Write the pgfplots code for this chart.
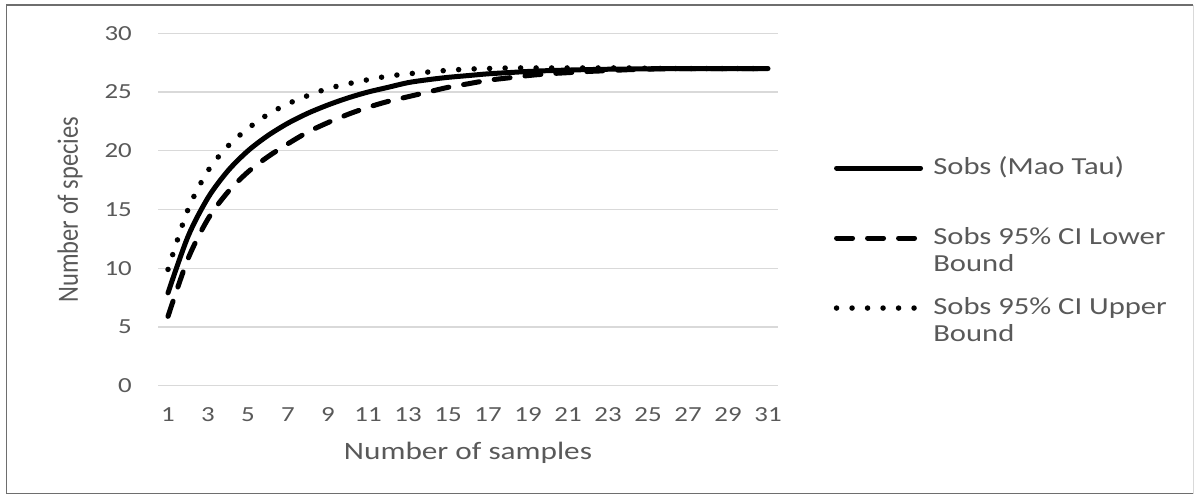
\documentclass[border=0pt]{standalone}
\usepackage{fontspec}
\usepackage{graphicx}
\usepackage{pgfplots}
\pgfplotsset{compat=1.18}
\setmainfont{Carlito}[FakeStretch=1.25]
\newfontfamily\ylabfamily{Carlito}
\definecolor{textgray}{HTML}{595959}
\definecolor{gridgray}{HTML}{D9D9D9}
\definecolor{framegray}{HTML}{6E6E6E}
\newcommand{\tickfont}{\fontsize{21.5bp}{25bp}\selectfont}
\newcommand{\labfont}{\fontsize{25bp}{30bp}\selectfont}
\newcommand{\legfont}{\fontsize{24.5bp}{27bp}\selectfont}
\newcommand{\ylabfont}{\ylabfamily\fontsize{24.5bp}{29bp}\selectfont}

\pgfplotstableread{
x y
1 7.9
2 12.7
3 16.0
4 18.3
5 20.0
6 21.3
7 22.35
8 23.2
9 23.9
10 24.5
11 25.0
12 25.4
13 25.8
14 26.05
15 26.25
16 26.4
17 26.55
18 26.65
19 26.75
20 26.82
21 26.87
22 26.91
23 26.94
24 26.96
25 26.98
26 26.99
27 27
28 27
29 27
30 27
31 27
}\sobsdata
\pgfplotstableread{
x y
1 5.9
2 10.8
3 14.2
4 16.5
5 18.2
6 19.5
7 20.6
8 21.6
9 22.4
10 23.1
11 23.7
12 24.2
13 24.6
14 25.0
15 25.4
16 25.7
17 26.0
18 26.2
19 26.4
20 26.55
21 26.65
22 26.75
23 26.82
24 26.9
25 26.95
26 26.98
27 27
28 27
29 27
30 27
31 27
}\lowdata
\pgfplotstableread{
x y
1 9.9
2 15.0
3 18.3
4 20.4
5 21.9
6 23.1
7 24.0
8 24.7
9 25.3
10 25.7
11 26.05
12 26.35
13 26.55
14 26.7
15 26.85
16 26.95
17 27.0
18 27.05
19 27.05
20 27.05
21 27.05
22 27.05
23 27.05
24 27.05
25 27.02
26 27
27 27
28 27
29 27
30 27
31 27
}\updata

\begin{document}
\begin{tikzpicture}
\useasboundingbox (0,0) rectangle (1194bp,495bp);
\begin{axis}[
  at={(158bp,109.3bp)}, anchor=south west,
  scale only axis, width=620bp, height=352.4bp,
  xmin=0.5, xmax=31.5, ymin=0, ymax=30,
  xtick={1,3,...,31}, ytick={0,5,...,30},
  ymajorgrids, grid style={color=gridgray, line width=1.3bp},
  axis line style={draw=none}, major tick length=0pt,
  /pgf/number format/assume math mode=true,
  tick label style={font=\tickfont, text=textgray},
  xticklabel style={anchor=center, yshift=-29bp},
  yticklabel style={anchor=east, inner sep=0pt, xshift=-26bp},
  xlabel={Number of samples},
  xlabel style={at={(axis description cs:0.5,0)}, anchor=center, yshift=-67bp, font=\labfont, text=textgray},
  ylabel={\scalebox{1}[1.2]{Number of species}},
  ylabel style={at={(axis description cs:-0.1419,0.5)}, anchor=center, font=\ylabfont, text=textgray},
  legend cell align=left,
  legend image code/.code={\draw[#1] (0bp,0bp) -- (84bp,0bp);},
  legend style={at={(rel axis cs:1.09,0.419)}, anchor=west, draw=none, fill=none,
    inner sep=0pt, outer sep=0pt, font=\legfont, text=textgray,
    row sep=48bp, column sep=10bp,
    nodes={inner sep=0pt, text height=17bp, text depth=5bp}},
]
\addplot[black, line width=5bp, smooth, tension=0.5, line join=round, line cap=round] table[x=x,y=y] {\sobsdata};
\addlegendentry{Sobs (Mao Tau)}
\addplot[black, line width=5bp, smooth, tension=0.5, line join=round, line cap=round, dash pattern=on 16bp off 15bp] table[x=x,y=y] {\lowdata};
\addlegendentry{\rlap{\smash{\raisebox{-27bp}{Bound}}}Sobs 95\% CI Lower}
\addplot[black, line width=5.5bp, smooth, tension=0.5, line cap=round, dash pattern=on 0bp off 15.5bp] table[x=x,y=y] {\updata};
\addlegendentry{\rlap{\smash{\raisebox{-27bp}{Bound}}}Sobs 95\% CI Upper}
\end{axis}
\draw[framegray, line width=1.5bp] (6.5bp,1.5bp) -- (6.5bp,490bp) -- (1193bp,490bp);
\draw[gridgray, line width=1bp] (1193bp,490bp) -- (1193bp,1.5bp);
\draw[framegray, line width=1.5bp] (6.5bp,1.5bp) -- (1193bp,1.5bp);
\end{tikzpicture}
\end{document}
